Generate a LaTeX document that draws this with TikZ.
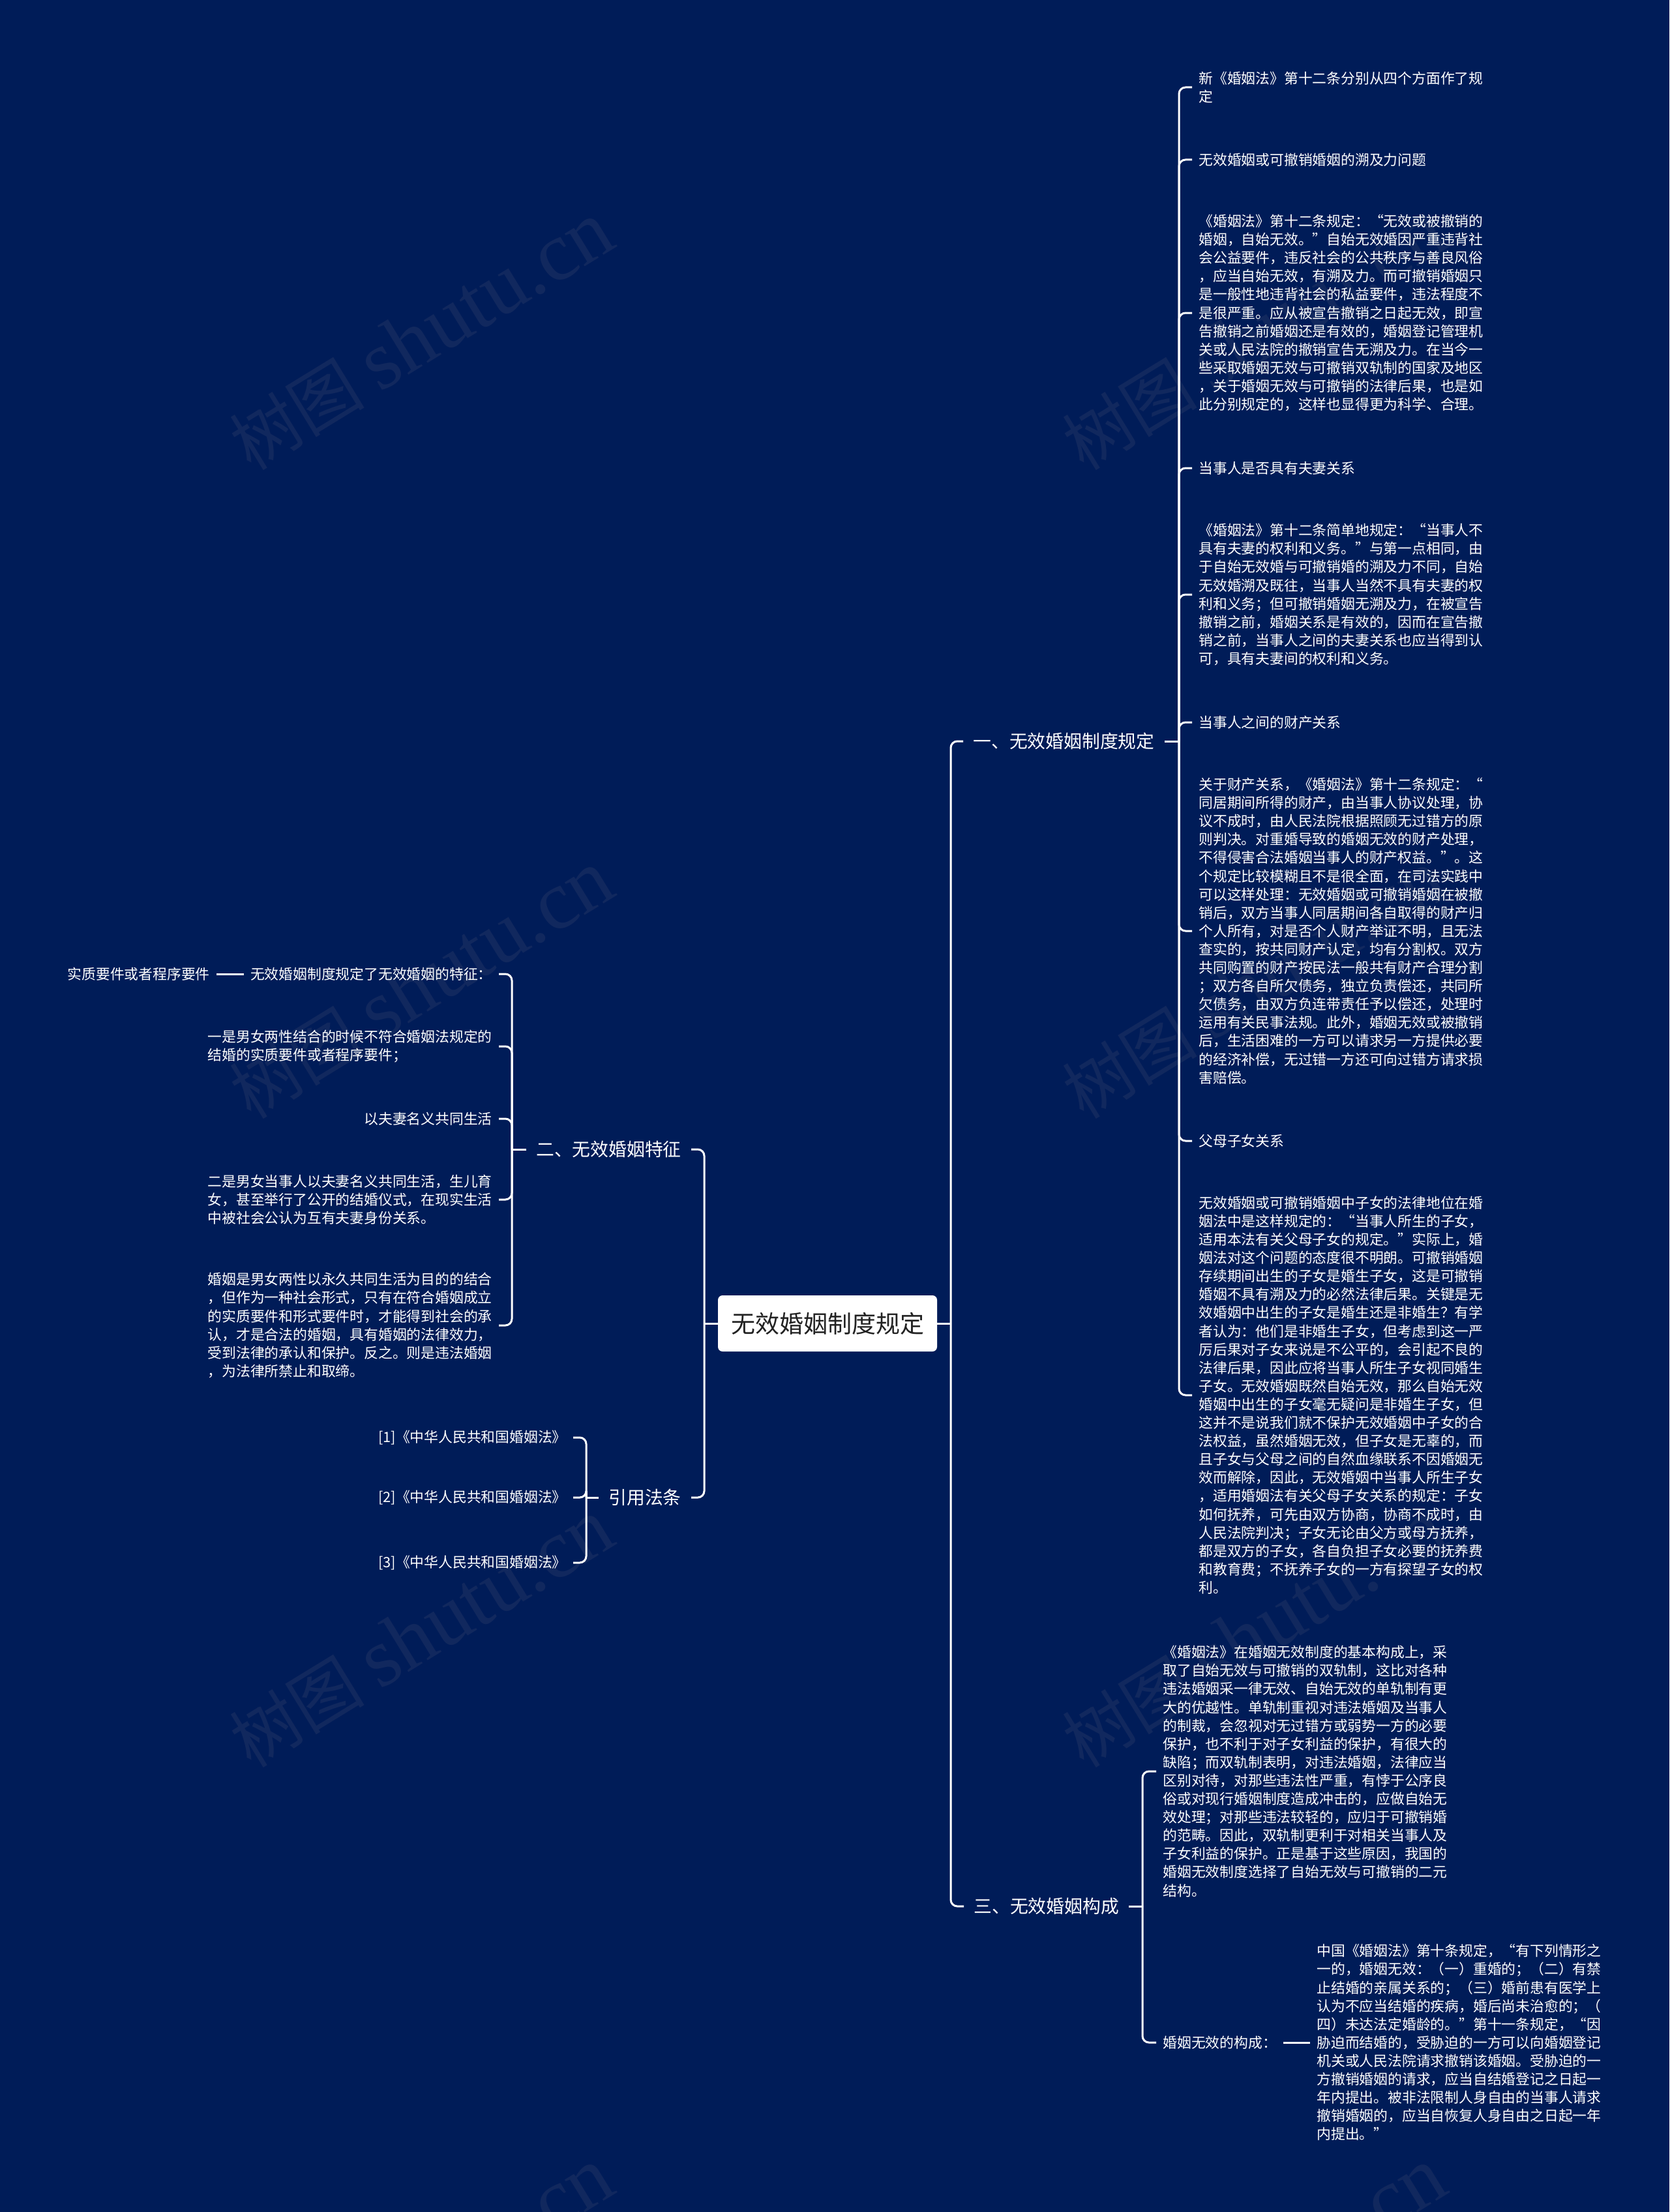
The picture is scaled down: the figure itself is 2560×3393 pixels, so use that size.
\documentclass[tikz,border=0pt]{standalone}
\usepackage{fontspec}
\setmainfont{Noto Sans CJK SC}
\newfontfamily\wmlatin{Liberation Serif}
\definecolor{navy}{RGB}{0,28,88}
\definecolor{wmgray}{RGB}{17,40,94}
\definecolor{rootink}{RGB}{34,34,34}
\begin{document}
\begin{tikzpicture}[x=0.5pt,y=-0.5pt,
  line/.style={draw=white,line width=1.5pt,rounded corners=5pt},
  root/.style={fill=white,rounded corners=3.5pt,minimum width=168pt,minimum height=43pt,inner sep=0pt,text=rootink,font=\fontsize{18.5pt}{20pt}\selectfont},
  branch/.style={text=white,inner xsep=7.5pt,inner ysep=0pt,font=\fontsize{13.9pt}{16pt}\selectfont},
  leaf/.style={text=white,inner xsep=5pt,inner ysep=0pt,align=left,font=\fontsize{10.9pt}{14.05pt}\selectfont},
  wmark/.style={text=wmgray,rotate=31.5,inner sep=0pt,font=\fontsize{52pt}{52pt}\selectfont}]
\fill[navy] (0,0) rectangle (2560,3393);
\useasboundingbox (0,0) rectangle (2560,3393);
\foreach \wx in {646,1923}
  \foreach \wy in {516,1511,2506,3501}
    \node[wmark] (wm-\wx-\wy) at (\wx,\wy) {树图 {\wmlatin\fontsize{64pt}{64pt}\selectfont shutu.cn}};

\node[root] (root) at (1269,2030) {无效婚姻制度规定};
\node[branch,anchor=west] (def) at (1477,1137) {一、无效婚姻制度规定};
\node[branch,anchor=west] (form) at (1478,2924) {三、无效婚姻构成};
\node[branch,anchor=east] (feat) at (1060,1763) {二、无效婚姻特征};
\node[branch,anchor=east] (cite) at (1060,2297) {引用法条};
\coordinate (jr) at (1458,2030);
\coordinate (jl) at (1080,2030);
\coordinate (jdef) at (1808,1137);
\coordinate (jform) at (1752,2924);
\coordinate (jfeat) at (785,1763);
\coordinate (jcite) at (899,2297);

\node[leaf,anchor=west] (d1) at (1828,134) {新《婚姻法》第十二条分别从四个方面作了规\\定};
\node[leaf,anchor=west] (d2) at (1828,245) {无效婚姻或可撤销婚姻的溯及力问题};
\node[leaf,anchor=west] (d3) at (1828,480) {《婚姻法》第十二条规定：“无效或被撤销的\\婚姻，自始无效。”自始无效婚因严重违背社\\会公益要件，违反社会的公共秩序与善良风俗\\，应当自始无效，有溯及力。而可撤销婚姻只\\是一般性地违背社会的私益要件，违法程度不\\是很严重。应从被宣告撤销之日起无效，即宣\\告撤销之前婚姻还是有效的，婚姻登记管理机\\关或人民法院的撤销宣告无溯及力。在当今一\\些采取婚姻无效与可撤销双轨制的国家及地区\\，关于婚姻无效与可撤销的法律后果，也是如\\此分别规定的，这样也显得更为科学、合理。};
\node[leaf,anchor=west] (d4) at (1828,718) {当事人是否具有夫妻关系};
\node[leaf,anchor=west] (d5) at (1828,912) {《婚姻法》第十二条简单地规定：“当事人不\\具有夫妻的权利和义务。”与第一点相同，由\\于自始无效婚与可撤销婚的溯及力不同，自始\\无效婚溯及既往，当事人当然不具有夫妻的权\\利和义务；但可撤销婚姻无溯及力，在被宣告\\撤销之前，婚姻关系是有效的，因而在宣告撤\\销之前，当事人之间的夫妻关系也应当得到认\\可，具有夫妻间的权利和义务。};
\node[leaf,anchor=west] (d6) at (1828,1108) {当事人之间的财产关系};
\node[leaf,anchor=west] (d7) at (1828,1428) {关于财产关系，《婚姻法》第十二条规定：“\\同居期间所得的财产，由当事人协议处理，协\\议不成时，由人民法院根据照顾无过错方的原\\则判决。对重婚导致的婚姻无效的财产处理，\\不得侵害合法婚姻当事人的财产权益。”。这\\个规定比较模糊且不是很全面，在司法实践中\\可以这样处理：无效婚姻或可撤销婚姻在被撤\\销后，双方当事人同居期间各自取得的财产归\\个人所有，对是否个人财产举证不明，且无法\\查实的，按共同财产认定，均有分割权。双方\\共同购置的财产按民法一般共有财产合理分割\\；双方各自所欠债务，独立负责偿还，共同所\\欠债务，由双方负连带责任予以偿还，处理时\\运用有关民事法规。此外，婚姻无效或被撤销\\后，生活困难的一方可以请求另一方提供必要\\的经济补偿，无过错一方还可向过错方请求损\\害赔偿。};
\node[leaf,anchor=west] (d8) at (1828,1750) {父母子女关系};
\node[leaf,anchor=west] (d9) at (1828,2140) {无效婚姻或可撤销婚姻中子女的法律地位在婚\\姻法中是这样规定的：“当事人所生的子女，\\适用本法有关父母子女的规定。”实际上，婚\\姻法对这个问题的态度很不明朗。可撤销婚姻\\存续期间出生的子女是婚生子女，这是可撤销\\婚姻不具有溯及力的必然法律后果。关键是无\\效婚姻中出生的子女是婚生还是非婚生？有学\\者认为：他们是非婚生子女，但考虑到这一严\\厉后果对子女来说是不公平的，会引起不良的\\法律后果，因此应将当事人所生子女视同婚生\\子女。无效婚姻既然自始无效，那么自始无效\\婚姻中出生的子女毫无疑问是非婚生子女，但\\这并不是说我们就不保护无效婚姻中子女的合\\法权益，虽然婚姻无效，但子女是无辜的，而\\且子女与父母之间的自然血缘联系不因婚姻无\\效而解除，因此，无效婚姻中当事人所生子女\\，适用婚姻法有关父母子女关系的规定：子女\\如何抚养，可先由双方协商，协商不成时，由\\人民法院判决；子女无论由父方或母方抚养，\\都是双方的子女，各自负担子女必要的抚养费\\和教育费；不抚养子女的一方有探望子女的权\\利。};

\node[leaf,anchor=west] (m1) at (1773,2717) {《婚姻法》在婚姻无效制度的基本构成上，采\\取了自始无效与可撤销的双轨制，这比对各种\\违法婚姻采一律无效、自始无效的单轨制有更\\大的优越性。单轨制重视对违法婚姻及当事人\\的制裁，会忽视对无过错方或弱势一方的必要\\保护，也不利于对子女利益的保护，有很大的\\缺陷；而双轨制表明，对违法婚姻，法律应当\\区别对待，对那些违法性严重，有悖于公序良\\俗或对现行婚姻制度造成冲击的，应做自始无\\效处理；对那些违法较轻的，应归于可撤销婚\\的范畴。因此，双轨制更利于对相关当事人及\\子女利益的保护。正是基于这些原因，我国的\\婚姻无效制度选择了自始无效与可撤销的二元\\结构。};
\node[leaf,anchor=west] (m2) at (1773,3133) {婚姻无效的构成：};
\node[leaf,anchor=west] (m2x) at (2009,3133) {中国《婚姻法》第十条规定，“有下列情形之\\一的，婚姻无效：（一）重婚的；（二）有禁\\止结婚的亲属关系的；（三）婚前患有医学上\\认为不应当结婚的疾病，婚后尚未治愈的；（\\四）未达法定婚龄的。”第十一条规定，“因\\胁迫而结婚的，受胁迫的一方可以向婚姻登记\\机关或人民法院请求撤销该婚姻。受胁迫的一\\方撤销婚姻的请求，应当自结婚登记之日起一\\年内提出。被非法限制人身自由的当事人请求\\撤销婚姻的，应当自恢复人身自由之日起一年\\内提出。”};

\node[leaf,anchor=east] (f1) at (765,1494) {无效婚姻制度规定了无效婚姻的特征：};
\node[leaf,anchor=east] (f1x) at (332,1494) {实质要件或者程序要件};
\node[leaf,anchor=east] (f2) at (765,1605) {一是男女两性结合的时候不符合婚姻法规定的\\结婚的实质要件或者程序要件；};
\node[leaf,anchor=east] (f3) at (765,1716) {以夫妻名义共同生活};
\node[leaf,anchor=east] (f4) at (765,1840) {二是男女当事人以夫妻名义共同生活，生儿育\\女，甚至举行了公开的结婚仪式，在现实生活\\中被社会公认为互有夫妻身份关系。};
\node[leaf,anchor=east] (f5) at (765,2033) {婚姻是男女两性以永久共同生活为目的的结合\\，但作为一种社会形式，只有在符合婚姻成立\\的实质要件和形式要件时，才能得到社会的承\\认，才是合法的婚姻，具有婚姻的法律效力，\\受到法律的承认和保护。反之。则是违法婚姻\\，为法律所禁止和取缔。};

\node[leaf,anchor=east] (c1) at (879,2205) {[1]《中华人民共和国婚姻法》};
\node[leaf,anchor=east] (c2) at (879,2297) {[2]《中华人民共和国婚姻法》};
\node[leaf,anchor=east] (c3) at (879,2397) {[3]《中华人民共和国婚姻法》};

\draw[line] (root.east) -- (jr);
\draw[line] (root.west) -- (jl);
\foreach \n in {def,form} \draw[line] (jr) |- (\n.west);
\foreach \n in {feat,cite} \draw[line] (jl) |- (\n.east);
\draw[line] (def.east) -- (jdef);
\draw[line] (form.east) -- (jform);
\draw[line] (feat.west) -- (jfeat);
\draw[line] (cite.west) -- (jcite);
\foreach \i in {1,...,9} \draw[line] (jdef) |- (d\i.west);
\foreach \i in {1,2} \draw[line] (jform) |- (m\i.west);
\foreach \i in {1,...,5} \draw[line] (jfeat) |- (f\i.east);
\foreach \i in {1,2,3} \draw[line] (jcite) |- (c\i.east);
\draw[line] (m2.east) -- (m2x.west);
\draw[line] (f1.west) -- (f1x.east);
\end{tikzpicture}
\end{document}
